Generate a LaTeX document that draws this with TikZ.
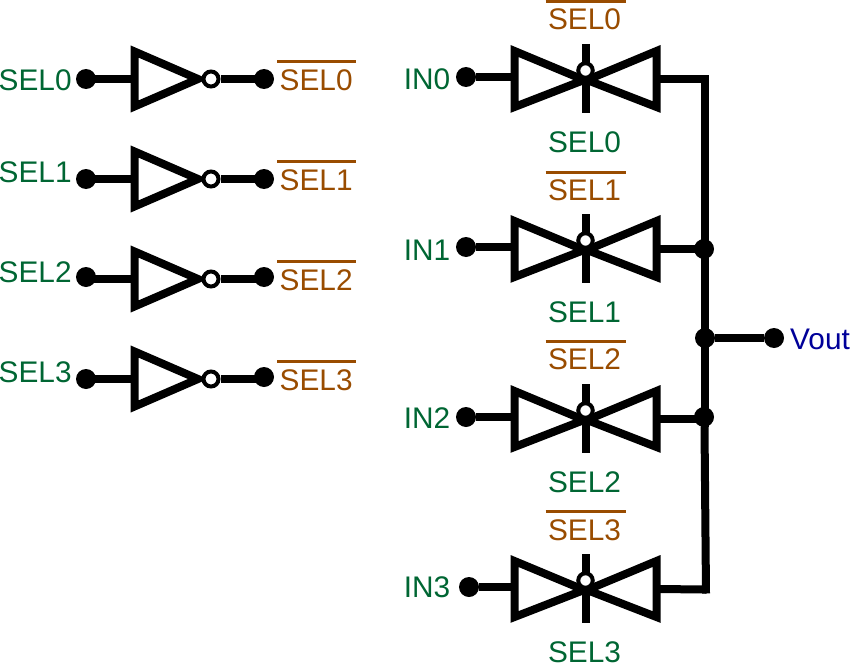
\documentclass[tikz,border=0pt]{standalone}
\usepackage{fontspec}
\setmainfont{Liberation Sans}
\definecolor{selgreen}{HTML}{006633}
\definecolor{selbrown}{HTML}{994C00}
\definecolor{outblue}{HTML}{000099}
\tikzset{
  wire/.style={line width=8pt,line cap=butt,line join=miter},
  gateshape/.style={line width=8pt,line join=miter,miter limit=10},
  bubble/.style={circle,draw,fill=white,line width=4pt,minimum size=15pt,inner sep=0pt},
  term/.style={circle,fill=black,minimum size=20pt,inner sep=0pt},
  lab/.style={inner sep=0pt,font=\fontsize{29.8}{30}\selectfont},
  gtxt/.style={lab,text=selgreen},
  btxt/.style={lab,text=selbrown},
  barline/.style={draw=selbrown,line width=3pt},
}
\begin{document}
\begin{tikzpicture}[x=1pt,y=-1pt]
\useasboundingbox (0,0) rectangle (851,669);
% inverters: index / gate y / left dot y / right dot y / left baseline
\foreach \i/\gy/\ly/\ry/\lb in {0/79/79/79/90,1/179/179/179/182,2/279/277/277/282,3/379/379/377/382}{
  \coordinate (ainp\i) at (134.5,\gy);
  \coordinate (astart\i) at (86,\gy);
  \coordinate (yend\i) at (264,\gy);
  \draw[gateshape] (134.5,\gy-27.5) -- (198,\gy) -- (134.5,\gy+27.5) -- cycle;
  \node[bubble] (n\i) at (211,\gy) {};
  \draw[wire] (astart\i) -- (ainp\i);
  \draw[wire] (n\i) -- (yend\i);
  \node[term] (a\i) at (86,\ly) {};
  \node[term] (y\i) at (264,\ry) {};
  \node[gtxt,anchor=base west] (la\i) at (-1.5,\lb) {SEL\i};
  \node[btxt,anchor=base west] (ly\i) at (279.5,\gy+11) {SEL\i};
  \coordinate (bl\i) at (277,\gy-17.5);
  \coordinate (br\i) at (356,\gy-17.5);
  \draw[barline] (bl\i) -- (br\i);
}
% transmission gates: index / gate y / input dot x / IN baseline / top baseline / bar y
\foreach \i/\gy/\dx/\ib/\tb/\by in {0/78/466/89.5/30/1.5,1/248/466/260/200/172,2/418/466/428/369/341.5,3/588/469/597.5/540/511.5}{
  \coordinate (tl\i) at (514.5,\gy-1);
  \coordinate (tr\i) at (656.5,\gy+1);
  \coordinate (vt\i) at (585.5,\gy-34);
  \coordinate (vb\i) at (585.5,\gy+35);
  \draw[gateshape] (514.5,\gy-27) -- (584,\gy+2) -- (514.5,\gy+29) -- cycle;
  \draw[gateshape] (656.5,\gy-27) -- (587,\gy+2) -- (656.5,\gy+29) -- cycle;
  \draw[line width=8pt] (vt\i) -- (vb\i);
  \node[bubble,minimum size=14.5pt] (p\i) at (585.5,\gy-7.5) {};
  \node[term] (in\i) at (\dx,\gy-1) {};
  \draw[wire] (in\i) -- (tl\i);
  \node[gtxt,anchor=base east] (li\i) at (450.5,\ib) {IN\i};
  \node[btxt,anchor=base] (lt\i) at (584.5,\tb) {SEL\i};
  \node[gtxt,anchor=base] (lb\i) at (584.5,\gy+74) {SEL\i};
  \coordinate (tbl\i) at (545.5,\by);
  \coordinate (tbr\i) at (625.5,\by);
  \draw[barline] (tbl\i) -- (tbr\i);
}
% output bus
\coordinate (bus0) at (704.5,79);
\coordinate (bus0t) at (704.5,75);
\coordinate (busm) at (704.5,427);
\coordinate (bus3) at (706,589.5);
\coordinate (bus3b) at (706,593.5);
\coordinate (j1w) at (704,249);
\coordinate (j2w) at (704,419);
\draw[wire] (tr0) -- (bus0);
\draw[wire] (tr1) -- (j1w);
\draw[wire] (tr2) -- (j2w);
\draw[wire] (tr3) -- (bus3);
\draw[wire] (bus0t) -- (busm);
\draw[wire] (busm) -- (bus3b);
\node[term] (j1) at (704,249) {};
\node[term] (jout) at (705,338) {};
\node[term] (j2) at (704,417) {};
\node[term] (vout) at (774,338) {};
\draw[wire] (jout) -- (vout);
\node[lab,anchor=base west,text=outblue] (lv) at (790,349) {Vout};
\end{tikzpicture}
\end{document}
